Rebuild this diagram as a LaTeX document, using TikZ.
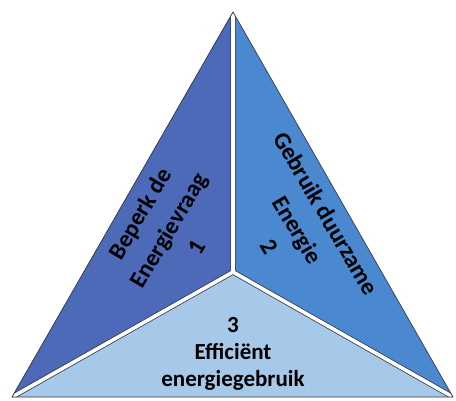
\documentclass[tikz,border=0pt]{standalone}
\usepackage{fontspec}
\setmainfont{Carlito}
\usetikzlibrary{positioning, calc}
\definecolor{demandblue}{RGB}{76, 106, 184}
\definecolor{renewblue}{RGB}{74, 136, 208}
\definecolor{efficientblue}{RGB}{166, 200, 233}
\definecolor{edgedark}{RGB}{55, 60, 75}

\tikzset{
    face/.style={draw=edgedark, line width=0.8pt, line join=round},
    facelabel/.style={align=center, font=\fontsize{24}{29}\selectfont\bfseries, text=black, inner sep=0pt}
}

\begin{document}
\begin{tikzpicture}[x=1pt, y=-1pt]
    \useasboundingbox (0,0) rectangle (456,400);
    \coordinate (apex) at (233,12);
    \coordinate (bl) at (12,397);
    \coordinate (br) at (453,397);
    \coordinate (ctr) at (233,272);

    % the three faces
    \fill[demandblue] (apex) -- (ctr) -- (bl) -- cycle;
    \fill[renewblue] (apex) -- (br) -- (ctr) -- cycle;
    \fill[efficientblue] (bl) -- (ctr) -- (br) -- cycle;

    % white gaps between the faces
    \begin{scope}
        \clip (apex) -- (br) -- (bl) -- cycle;
        \draw[edgedark, line width=5.2pt] (apex) -- (ctr) (bl) -- (ctr) -- (br);
        \draw[white, line width=3.6pt] (apex) -- (ctr) (bl) -- (ctr) -- (br);
    \end{scope}
    \draw[face] (apex) -- (br) -- (bl) -- cycle;

    % labels
    \node[facelabel, rotate=59.5] (demand) at (168,230) {Beperk de\\[4pt]Energievraag\\[4pt]1};
    \node[facelabel, rotate=-59.5] (renewable) at (298,230) {Gebruik duurzame\\[4pt]Energie\\[4pt]2};
    \node[facelabel, font=\fontsize{23}{27}\selectfont\bfseries] (efficient) at (233,354) {3\\Efficiënt\\energiegebruik};
\end{tikzpicture}
\end{document}
